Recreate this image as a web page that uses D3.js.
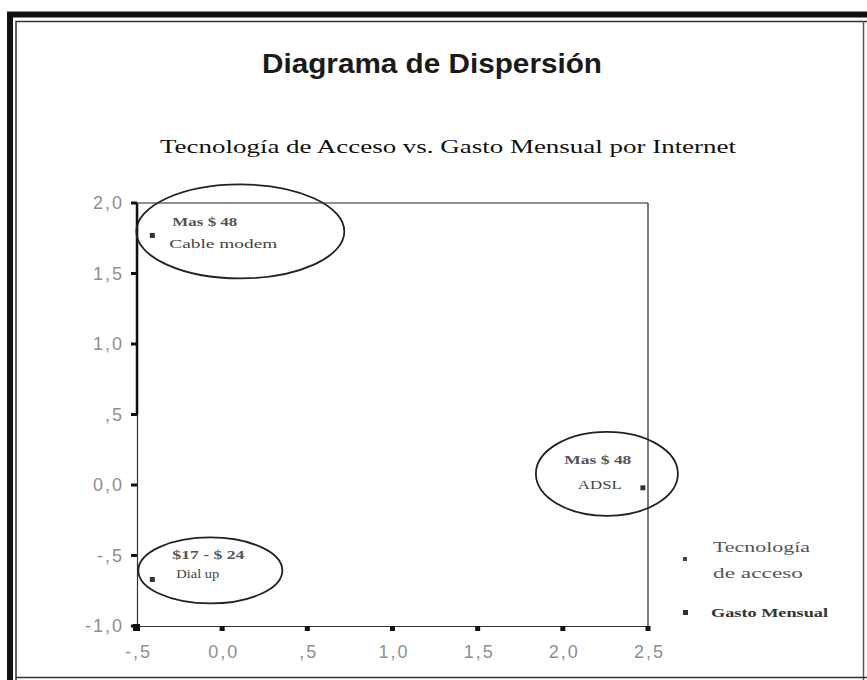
<!DOCTYPE html>
<html><head><meta charset="utf-8">
<script src="https://cdn.jsdelivr.net/npm/d3@7"></script>
<style>body{margin:0;background:#fff;}svg{display:block;}</style>
</head><body>
<svg id="c" width="867" height="680"></svg>
<script>
const title = "Diagrama de Dispersión";
const subtitle = "Tecnología de Acceso vs. Gasto Mensual por Internet";
const categories = ["Cable modem", "Dial up", "ADSL"];
const gastoLabels = ["Mas $ 48", "$17 - $ 24", "Mas $ 48"];
const xValues = [-0.41, -0.41, 2.47];
const yValues = [1.77, -0.67, -0.02];
const xTicks = [-0.5, 0, 0.5, 1, 1.5, 2, 2.5];
const xTickLabels = ["-,5", "0,0", ",5", "1,0", "1,5", "2,0", "2,5"];
const yTicks = [-1, -0.5, 0, 0.5, 1, 1.5, 2];
const yTickLabels = ["-1,0", "-,5", "0,0", ",5", "1,0", "1,5", "2,0"];
const legendLabels = [["Tecnología", "de acceso"], ["Gasto Mensual"]];

const svg = d3.select("#c");
// frame
svg.append("rect").attr("x",0).attr("y",0).attr("width",867).attr("height",680).attr("fill","#fff");
svg.append("path").attr("d","M10,680 V14.5 H867").attr("fill","none").attr("stroke","#111").attr("stroke-width",6);
svg.append("path").attr("d","M16,680 V21.5 H867").attr("fill","none").attr("stroke","#333").attr("stroke-width",1.5);
svg.append("line").attr("x1",863.5).attr("x2",863.5).attr("y1",21).attr("y2",680).attr("stroke","#555").attr("stroke-width",1.5);
svg.append("line").attr("x1",16).attr("x2",867).attr("y1",677.5).attr("y2",677.5).attr("stroke","#333").attr("stroke-width",1.5);

svg.append("text").attr("x",432).attr("y",73).attr("text-anchor","middle")
  .attr("font-family","Liberation Sans, Arial, sans-serif").attr("font-size",28).attr("font-weight","bold")
  .attr("textLength",340).attr("lengthAdjust","spacingAndGlyphs")
  .attr("fill","#1a1a1a").text(title);
svg.append("text").attr("x",448).attr("y",153).attr("text-anchor","middle")
  .attr("font-family","Liberation Serif, serif").attr("font-size",19)
  .attr("textLength",576).attr("lengthAdjust","spacingAndGlyphs")
  .attr("fill","#111").text(subtitle);

const x = d3.scaleLinear().domain([-0.5, 2.5]).range([137, 648]);
const y = d3.scaleLinear().domain([-1, 2]).range([626, 203]);

const g = svg.append("g");
// plot box
g.append("line").attr("x1",x(-0.5)).attr("x2",x(2.5)).attr("y1",y(2)).attr("y2",y(2)).attr("stroke","#222").attr("stroke-width",1);
g.append("line").attr("x1",x(2.5)).attr("x2",x(2.5)).attr("y1",y(2)).attr("y2",y(-1)).attr("stroke","#222").attr("stroke-width",1.2);

// axes via d3
const xAxis = d3.axisBottom(x).tickValues(xTicks).tickFormat((d,i)=>xTickLabels[i]).tickSize(0).tickPadding(19);
const yAxis = d3.axisLeft(y).tickValues(yTicks).tickFormat((d,i)=>yTickLabels[i]).tickSize(0).tickPadding(13);
const xg = g.append("g").attr("transform",`translate(0,${y(-1)})`).call(xAxis);
const yg = g.append("g").attr("transform",`translate(${x(-0.5)},0)`).call(yAxis);
[xg,yg].forEach(a=>{
  a.select(".domain").attr("stroke","#333").attr("stroke-width",1.2);
  a.selectAll("text").attr("font-family","Liberation Sans, Arial, sans-serif").attr("font-size",18)
    .attr("fill","#8f8f8f").attr("letter-spacing","2px");
});
xg.selectAll("text").attr("dx","1px");
// thick upper part of y axis
g.append("line").attr("x1",x(-0.5)).attr("x2",x(-0.5)).attr("y1",y(2)).attr("y2",y(0.5))
  .attr("stroke","#111").attr("stroke-width",2.5);
// tick marks
g.selectAll(".yt").data(yTicks).join("rect").attr("class","yt")
  .attr("x",x(-0.5)-6).attr("y",d=>y(d)-1.5).attr("width",6).attr("height",3).attr("fill","#111");
g.selectAll(".xt").data(xTicks).join("rect").attr("class","xt")
  .attr("x",d=>x(d)-2.5).attr("y",y(-1)).attr("width",5).attr("height",5).attr("fill","#111");
g.append("rect").attr("x",x(-0.5)-4).attr("y",y(-1)-2).attr("width",7).attr("height",7).attr("fill","#111");

// annotation ellipses (offsets relative to each point)
const ell = [{dx:88,dy:-4,rx:104,ry:47},{dx:58,dy:-9,rx:72,ry:33},{dx:-36,dy:-14,rx:71,ry:42}];
const lab = [
  {a:"start",x1:20,y1:-9,w1:65,x2:17,y2:13,w2:108},
  {a:"start",x1:20,y1:-20,w1:72,x2:24,y2:-1,w2:43},
  {a:"middle",x1:-45,y1:-24,w1:67,x2:-43,y2:1,w2:44}];
const pts = categories.map((c,i)=>({c, gasto:gastoLabels[i], px:x(xValues[i]), py:y(yValues[i]), e:ell[i], l:lab[i]}));
g.selectAll(".ell").data(pts).join("ellipse").attr("class","ell")
  .attr("cx",d=>d.px+d.e.dx).attr("cy",d=>d.py+d.e.dy).attr("rx",d=>d.e.rx).attr("ry",d=>d.e.ry)
  .attr("fill","none").attr("stroke","#222").attr("stroke-width",1.8);
g.selectAll(".pt").data(pts).join("rect").attr("class","pt")
  .attr("x",d=>d.px-2.5).attr("y",d=>d.py-2.5).attr("width",5).attr("height",5).attr("fill","#333");
g.selectAll(".l1").data(pts).join("text").attr("class","l1")
  .attr("x",d=>d.px+d.l.x1).attr("y",d=>d.py+d.l.y1).attr("text-anchor",d=>d.l.a)
  .attr("font-family","Liberation Serif, serif").attr("font-size",13).attr("font-weight","bold")
  .attr("textLength",d=>d.l.w1).attr("lengthAdjust","spacingAndGlyphs")
  .attr("fill","#555").text(d=>d.gasto);
g.selectAll(".l2").data(pts).join("text").attr("class","l2")
  .attr("x",d=>d.px+d.l.x2).attr("y",d=>d.py+d.l.y2).attr("text-anchor",d=>d.l.a)
  .attr("font-family","Liberation Serif, serif").attr("font-size",13)
  .attr("textLength",d=>d.l.w2).attr("lengthAdjust","spacingAndGlyphs")
  .attr("fill","#444").text(d=>d.c);

// legend
const lg = svg.append("g");
lg.append("rect").attr("x",683).attr("y",557).attr("width",4).attr("height",4).attr("fill","#444");
lg.append("text").attr("x",713).attr("y",552).attr("font-family","Liberation Serif, serif").attr("font-size",14)
  .attr("textLength",97).attr("lengthAdjust","spacingAndGlyphs").attr("fill","#555").text(legendLabels[0][0]);
lg.append("text").attr("x",713).attr("y",578).attr("font-family","Liberation Serif, serif").attr("font-size",14)
  .attr("textLength",90).attr("lengthAdjust","spacingAndGlyphs").attr("fill","#555").text(legendLabels[0][1]);
lg.append("rect").attr("x",683).attr("y",610).attr("width",5).attr("height",5).attr("fill","#333");
lg.append("text").attr("x",711).attr("y",617).attr("font-family","Liberation Serif, serif").attr("font-size",13)
  .attr("font-weight","bold").attr("textLength",117).attr("lengthAdjust","spacingAndGlyphs").attr("fill","#333").text(legendLabels[1][0]);
</script>
</body></html>
